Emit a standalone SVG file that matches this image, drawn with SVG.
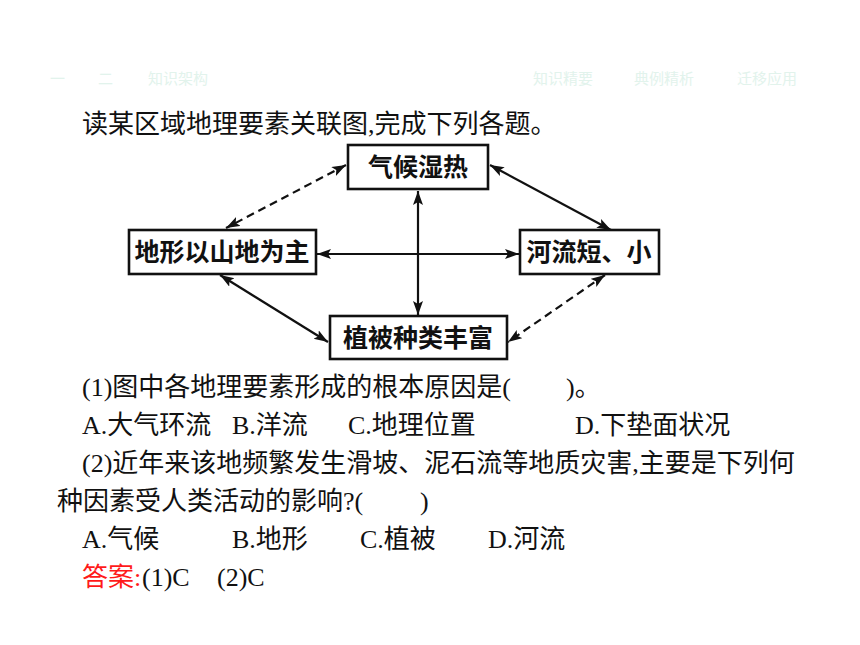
<svg xmlns="http://www.w3.org/2000/svg" width="860" height="645" viewBox="0 0 860 645">
<defs>
<style>
.nav{font-family:"Noto Sans CJK SC","Noto Sans",sans-serif;font-size:15px;fill:#e2f3ec}
.t{font-family:"Liberation Serif","Noto Sans CJK SC",serif;font-size:26px;fill:#111}
.red{fill:#ff1a1a}
.box{fill:#fff;stroke:#111;stroke-width:2.6}
.nt{font-family:"Noto Sans CJK SC",sans-serif;font-size:25px;font-weight:bold;fill:#111;text-anchor:middle}
.c{stroke:#111;stroke-width:2.2;fill:none;marker-start:url(#ah);marker-end:url(#ah)}
.d{stroke-dasharray:8 5}
</style>
<marker id="ah" markerUnits="userSpaceOnUse" markerWidth="16" markerHeight="12" refX="14" refY="5" orient="auto-start-reverse">
<path d="M0,0 L14,5 L0,10 L3,5 z" fill="#111"/>
</marker>
</defs>
<rect width="860" height="645" fill="#fff"/>
<g id="nav">
<text class="nav" x="50" y="84">一</text>
<text class="nav" x="98" y="84">二</text>
<text class="nav" x="148" y="84">知识架构</text>
<text class="nav" x="533" y="84">知识精要</text>
<text class="nav" x="634" y="84">典例精析</text>
<text class="nav" x="737" y="84">迁移应用</text>
</g>
<text class="t" x="82" y="133">读某区域地理要素关联图,完成下列各题。</text>
<g id="connectors">
<line class="c d" x1="346" y1="165" x2="226" y2="228"/>
<line class="c" x1="490" y1="165" x2="611" y2="230"/>
<line class="c" x1="220" y1="275" x2="328" y2="342"/>
<line class="c d" x1="605" y1="275" x2="508" y2="342"/>
<line class="c" x1="317" y1="254" x2="519" y2="254"/>
<line class="c" x1="418" y1="191" x2="418" y2="315"/>
</g>
<g id="n-climate"><rect class="box" x="348" y="145" width="140" height="44"/><text class="nt" x="418" y="176">气候湿热</text></g>
<g id="n-terrain"><rect class="box" x="129" y="230" width="187" height="44"/><text class="nt" x="222" y="261">地形以山地为主</text></g>
<g id="n-river"><rect class="box" x="520" y="230" width="139" height="44"/><text class="nt" x="589" y="261">河流短、小</text></g>
<g id="n-veg"><rect class="box" x="330" y="316" width="177" height="43"/><text class="nt" x="418" y="347">植被种类丰富</text></g>
<g id="questions">
<text class="t" x="82" y="396">(1)图中各地理要素形成的根本原因是(</text>
<text class="t" x="566" y="396">)。</text>
<text class="t" x="82" y="434">A.大气环流</text>
<text class="t" x="232" y="434">B.洋流</text>
<text class="t" x="348" y="434">C.地理位置</text>
<text class="t" x="575" y="434">D.下垫面状况</text>
<text class="t" x="82" y="472">(2)近年来该地频繁发生滑坡、泥石流等地质灾害,主要是下列何</text>
<text class="t" x="57" y="510">种因素受人类活动的影响?(</text>
<text class="t" x="420" y="510">)</text>
<text class="t" x="82" y="548">A.气候</text>
<text class="t" x="232" y="548">B.地形</text>
<text class="t" x="360" y="548">C.植被</text>
<text class="t" x="488" y="548">D.河流</text>
<text class="t red" x="82" y="586">答案:</text>
<text class="t" x="142" y="586">(1)C</text>
<text class="t" x="217" y="586">(2)C</text>
</g>
</svg>
